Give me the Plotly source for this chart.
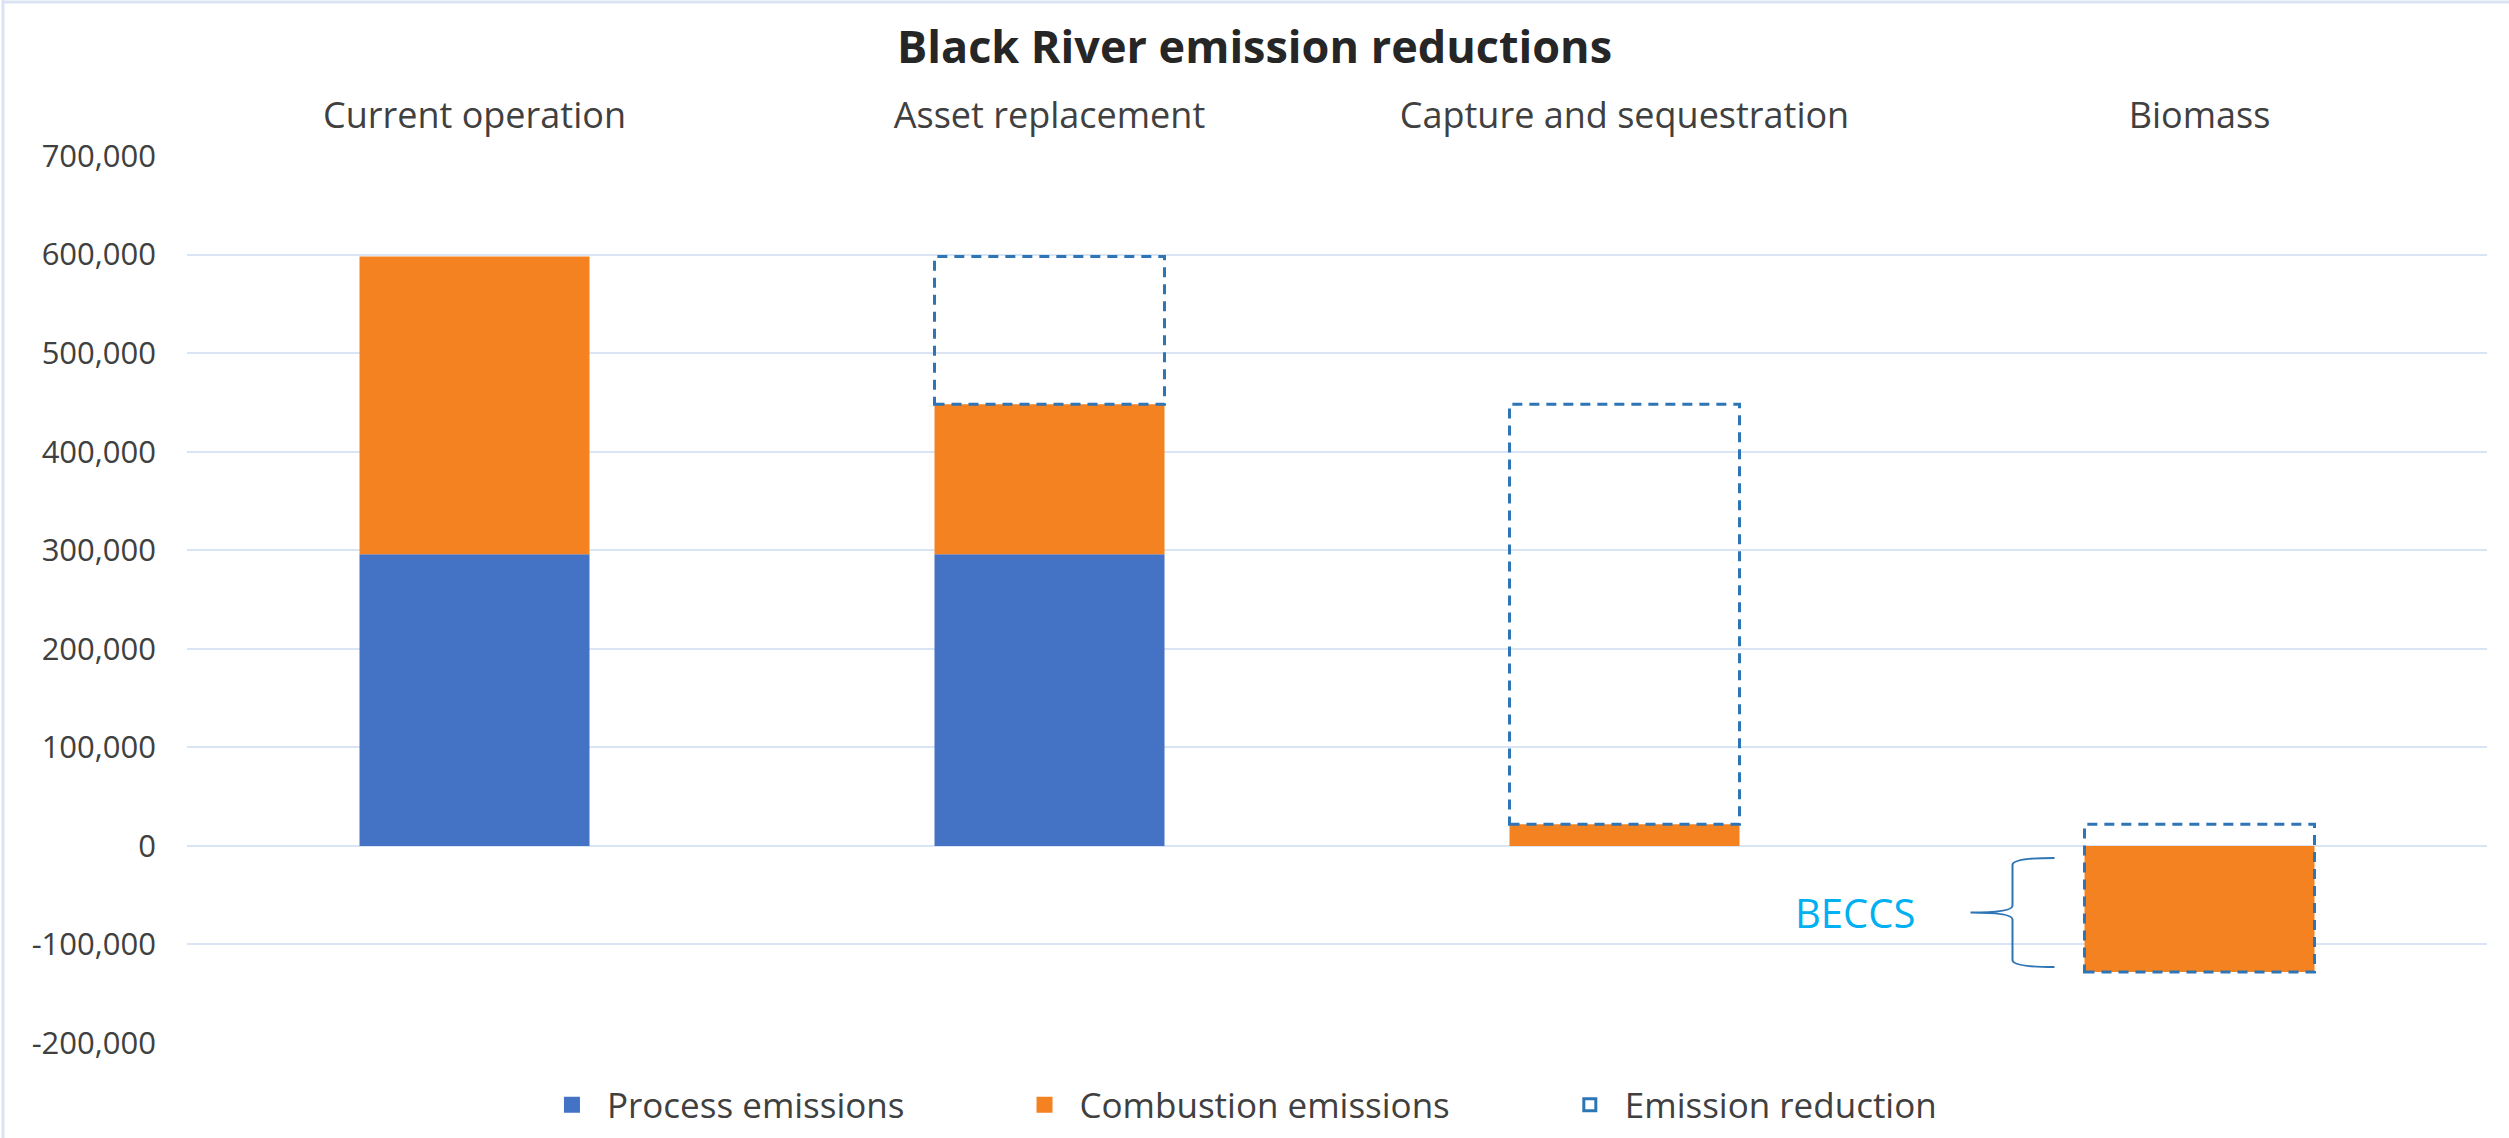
import plotly.graph_objects as go

# ---- data ----
categories = ["Current operation", "Asset replacement", "Capture and sequestration", "Biomass"]
process_emissions = [296000, 296000, 0, 0]
combustion_emissions = [302000, 152000, 22000, -128000]
reduction_top = [None, 598000, 448000, 22000]
reduction_bottom = [None, 448000, 22000, -128000]
y_tickvals = [-200000, -100000, 0, 100000, 200000, 300000, 400000, 500000, 600000, 700000]
y_ticktext = ["-200,000", "-100,000", "0", "100,000", "200,000", "300,000",
              "400,000", "500,000", "600,000", "700,000"]
legend_names = ["Process emissions", "Combustion emissions", "Emission reduction"]

BLUE = "#4472C4"
ORANGE = "#F58220"
DASH = "#2E75B6"
GRID = "#D9E5F4"
TEXT = "#404040"
FONT = "Open Sans"

W, H = 2509, 1138
ML, MR, MT, MB = 187, 22, 156, 95
BAR_W = 0.4
PAD = "\u00a0" * 11

x_idx = list(range(len(categories)))

fig = go.Figure()
fig.add_trace(go.Bar(x=x_idx, y=process_emissions, width=BAR_W, marker=dict(color=BLUE, line=dict(width=0)),
                     name=legend_names[0], showlegend=False))
fig.add_trace(go.Bar(x=x_idx, y=combustion_emissions, width=BAR_W, marker=dict(color=ORANGE, line=dict(width=0)),
                     name=legend_names[1], showlegend=False))
# legend entries
fig.add_trace(go.Scatter(x=[None], y=[None], mode="markers", name=legend_names[0] + PAD,
                         marker=dict(symbol="square", size=24, color=BLUE)))
fig.add_trace(go.Scatter(x=[None], y=[None], mode="markers", name=legend_names[1] + PAD,
                         marker=dict(symbol="square", size=24, color=ORANGE)))

shapes = []
first = True
for i, (top, bot) in enumerate(zip(reduction_top, reduction_bottom)):
    if top is None:
        continue
    shapes.append(dict(type="rect", xref="x", yref="y", x0=i - BAR_W / 2, x1=i + BAR_W / 2,
                       y0=bot, y1=top, line=dict(color=DASH, width=3, dash="10px,7px"),
                       fillcolor="rgba(0,0,0,0)", layer="above",
                       name=legend_names[2], showlegend=first, legendgroup="red"))
    first = False

# BECCS brace next to biomass bar
bi = 3
bar_left = bi - BAR_W / 2
px_x = 1.0 / 575
px_y = 1015.0
x_end = bar_left - 30 * px_x
x_v = bar_left - 72 * px_x
x_tip = bar_left - 114 * px_x
y_top = -12 * px_y
y_bot = combustion_emissions[bi] + 5 * px_y
y_mid = (y_top + y_bot) / 2
r = 7 * px_y
path = (f"M {x_end},{y_top} Q {x_v},{y_top} {x_v},{y_top - r} "
        f"L {x_v},{y_mid + r} Q {x_v},{y_mid} {x_tip},{y_mid} "
        f"Q {x_v},{y_mid} {x_v},{y_mid - r} "
        f"L {x_v},{y_bot + r} Q {x_v},{y_bot} {x_end},{y_bot}")
shapes.append(dict(type="path", xref="x", yref="y", path=path, line=dict(color="#2E75B6", width=2)))

# chart border (top & left)
plot_w = W - ML - MR
plot_h = H - MT - MB
def px2paper_x(px):
    return (px - ML) / plot_w
def py2paper_y(py):
    return (H - MB - py) / plot_h
shapes.append(dict(type="line", xref="paper", yref="paper", x0=px2paper_x(2), x1=px2paper_x(W),
                   y0=py2paper_y(2), y1=py2paper_y(2), line=dict(color="#DAE3F3", width=3)))
shapes.append(dict(type="line", xref="paper", yref="paper", x0=px2paper_x(3), x1=px2paper_x(3),
                   y0=py2paper_y(0), y1=py2paper_y(H), line=dict(color="#DAE3F3", width=3)))

fig.update_layout(
    width=W, height=H,
    margin=dict(l=ML, r=MR, t=MT, b=MB),
    paper_bgcolor="white", plot_bgcolor="white",
    barmode="relative",
    font=dict(family=FONT, color=TEXT),
    title=dict(text="<b>Black River emission reductions</b>", x=0.5, xref="container", xanchor="center",
               y=1 - 47 / H, yref="container", yanchor="middle",
               font=dict(family=FONT, size=45, color="#262626")),
    xaxis=dict(type="linear", range=[-0.5, 3.5], tickvals=x_idx, ticktext=categories, side="top",
               showgrid=False, zeroline=False, showline=False, ticks="",
               tickfont=dict(family=FONT, size=36, color=TEXT), ticklabelstandoff=20),
    yaxis=dict(range=[-200000, 700000], tickvals=y_tickvals, ticktext=y_ticktext,
               showgrid=True, gridcolor=GRID, gridwidth=2, zeroline=True, zerolinecolor=GRID, zerolinewidth=2,
               showline=False, ticks="", tickfont=dict(family=FONT, size=31, color=TEXT), ticklabelstandoff=30),
    legend=dict(orientation="h", xref="container", x=0.494, xanchor="center",
                yref="container", y=1 - 1105 / H, yanchor="middle",
                font=dict(family=FONT, size=35, color=TEXT), itemwidth=60,
                bgcolor="rgba(0,0,0,0)"),
    shapes=shapes,
    annotations=[dict(x=x_tip - 54 * px_x, y=y_mid, xref="x", yref="y", text="BECCS", showarrow=False,
                      xanchor="right", yanchor="middle", font=dict(family=FONT, size=40, color="#00B0F0"))],
)

fig.write_html("out.html")
